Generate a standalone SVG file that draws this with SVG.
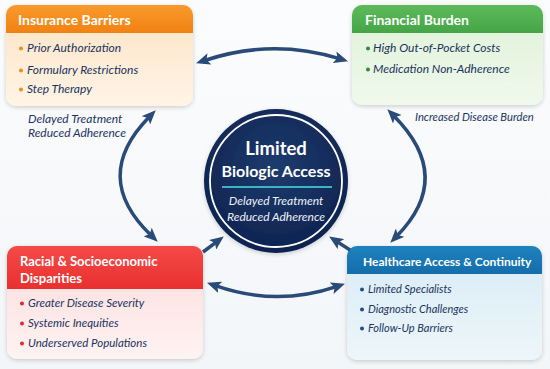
<svg xmlns="http://www.w3.org/2000/svg" width="550" height="369" viewBox="0 0 550 369">
<defs>
<linearGradient id="bg" x1="0" y1="0" x2="0" y2="1"><stop offset="0" stop-color="#FBFCFD"/><stop offset="1" stop-color="#F3F6F9"/></linearGradient>
<linearGradient id="hOr" x1="0" y1="0" x2="0" y2="1"><stop offset="0" stop-color="#F99A2C"/><stop offset="1" stop-color="#F08212"/></linearGradient>
<linearGradient id="bOr" x1="0" y1="0" x2="0" y2="1"><stop offset="0" stop-color="#FDE3C3"/><stop offset="1" stop-color="#FFF4E6"/></linearGradient>
<linearGradient id="hGr" x1="0" y1="0" x2="0" y2="1"><stop offset="0" stop-color="#5CBA5A"/><stop offset="1" stop-color="#45A546"/></linearGradient>
<linearGradient id="bGr" x1="0" y1="0" x2="0" y2="1"><stop offset="0" stop-color="#DDF1D6"/><stop offset="1" stop-color="#F0F9EC"/></linearGradient>
<linearGradient id="hRd" x1="0" y1="0" x2="0" y2="1"><stop offset="0" stop-color="#F44A48"/><stop offset="1" stop-color="#E9302F"/></linearGradient>
<linearGradient id="bRd" x1="0" y1="0" x2="0" y2="1"><stop offset="0" stop-color="#FCDADA"/><stop offset="1" stop-color="#FFF3F3"/></linearGradient>
<linearGradient id="hBl" x1="0" y1="0" x2="0" y2="1"><stop offset="0" stop-color="#1E82C0"/><stop offset="1" stop-color="#156DAB"/></linearGradient>
<linearGradient id="bBl" x1="0" y1="0" x2="0" y2="1"><stop offset="0" stop-color="#D8EBF5"/><stop offset="1" stop-color="#EDF6FA"/></linearGradient>
<radialGradient id="circ" cx="0.5" cy="0.4" r="0.6"><stop offset="0" stop-color="#1E3C6E"/><stop offset="1" stop-color="#0E2350"/></radialGradient>
<filter id="sh" x="-10%" y="-10%" width="120%" height="130%"><feDropShadow dx="0" dy="1.5" stdDeviation="2" flood-color="#000" flood-opacity="0.18"/></filter>
<marker id="ah" viewBox="0 0 14 12" refX="5" refY="6" markerWidth="14" markerHeight="12" markerUnits="userSpaceOnUse" orient="auto-start-reverse"><path d="M0,0 L14,6 L0,12 L3,6 z" fill="#2A4B79"/></marker>
</defs>
<style>
.title{font-family:Lato,"Open Sans","Liberation Sans",sans-serif;font-weight:700;font-size:14px;fill:#fff}
.item{font-family:Lato,"Open Sans","Liberation Sans",sans-serif;font-style:italic;font-size:12px;fill:#1B335E}
.lbl{font-family:Lato,"Open Sans","Liberation Sans",sans-serif;font-style:italic;font-size:12px;fill:#1B335E}
.conn{fill:none;stroke:#2A4B79;stroke-width:3.5}
.ctitle{font-family:Lato,"Open Sans","Liberation Sans",sans-serif;font-weight:700;font-size:17px;fill:#fff}
.csub{font-family:Lato,"Open Sans","Liberation Sans",sans-serif;font-style:italic;font-size:12px;fill:#EEF2F8}
</style>
<rect width="550" height="369" fill="url(#bg)"/>

<g id="insurance">
<rect x="6" y="5" width="187" height="101" rx="10" fill="url(#bOr)" filter="url(#sh)"/>
<path d="M6,33 V15 A10,10 0 0 1 16,5 H183 A10,10 0 0 1 193,15 V33 Z" fill="url(#hOr)"/>
<text class="title" x="18" y="25">Insurance Barriers</text>
<circle cx="21" cy="48.5" r="2" fill="#F08A1E"/><text class="item" x="27" y="52">Prior Authorization</text>
<circle cx="21" cy="70.5" r="2" fill="#F08A1E"/><text class="item" x="27" y="74">Formulary Restrictions</text>
<circle cx="21" cy="89.5" r="2" fill="#F08A1E"/><text class="item" x="27" y="93">Step Therapy</text>
</g>

<g id="financial">
<rect x="352" y="5" width="191" height="100" rx="10" fill="url(#bGr)" filter="url(#sh)"/>
<path d="M352,33 V15 A10,10 0 0 1 362,5 H533 A10,10 0 0 1 543,15 V33 Z" fill="url(#hGr)"/>
<text class="title" x="365" y="25">Financial Burden</text>
<circle cx="368" cy="48.5" r="2" fill="#2E8B3E"/><text class="item" x="373" y="52">High Out-of-Pocket Costs</text>
<circle cx="368" cy="69.5" r="2" fill="#2E8B3E"/><text class="item" x="373" y="73">Medication Non-Adherence</text>
</g>

<g id="racial">
<rect x="7" y="246" width="196" height="113" rx="10" fill="url(#bRd)" filter="url(#sh)"/>
<path d="M7,289 V256 A10,10 0 0 1 17,246 H193 A10,10 0 0 1 203,256 V289 Z" fill="url(#hRd)"/>
<text class="title" x="20" y="266" style="font-size:13px">Racial &amp; Socioeconomic</text>
<text class="title" x="20" y="283" style="font-size:13px">Disparities</text>
<circle cx="22" cy="303.5" r="2" fill="#E2282C"/><text class="item" x="28" y="307" style="font-size:11.5px">Greater Disease Severity</text>
<circle cx="22" cy="323.5" r="2" fill="#E2282C"/><text class="item" x="28" y="327" style="font-size:11.5px">Systemic Inequities</text>
<circle cx="22" cy="343.5" r="2" fill="#E2282C"/><text class="item" x="28" y="347" style="font-size:11.5px">Underserved Populations</text>
</g>

<g id="healthcare">
<rect x="347" y="246" width="195" height="114" rx="10" fill="url(#bBl)" filter="url(#sh)"/>
<path d="M347,274 V256 A10,10 0 0 1 357,246 H532 A10,10 0 0 1 542,256 V274 Z" fill="url(#hBl)"/>
<text class="title" x="363" y="266" style="font-size:12px">Healthcare Access &amp; Continuity</text>
<circle cx="362" cy="289.5" r="2" fill="#1B4F8A"/><text class="item" x="368" y="293" style="font-size:11px">Limited Specialists</text>
<circle cx="362" cy="309.5" r="2" fill="#1B4F8A"/><text class="item" x="368" y="313" style="font-size:11px">Diagnostic Challenges</text>
<circle cx="362" cy="328.5" r="2" fill="#1B4F8A"/><text class="item" x="368" y="332" style="font-size:11px">Follow-Up Barriers</text>
</g>

<g id="center">
<circle cx="276" cy="181" r="72" fill="url(#circ)" filter="url(#sh)"/>
<circle cx="276" cy="181" r="66" fill="none" stroke="#fff" stroke-width="1.8"/>
<text class="ctitle" x="276" y="155" text-anchor="middle" style="font-size:18.5px">Limited</text>
<text class="ctitle" x="276" y="177" text-anchor="middle" style="font-size:16px">Biologic Access</text>
<line x1="222" y1="187" x2="332" y2="187" stroke="#3DB3C6" stroke-width="2"/>
<text class="csub" x="276" y="205" text-anchor="middle">Delayed Treatment</text>
<text class="csub" x="276" y="221" text-anchor="middle">Reduced Adherence</text>
</g>

<g id="connectors">
<path class="conn" d="M204.6,60.5 Q272,38 339.4,58.7" marker-start="url(#ah)" marker-end="url(#ah)"/>
<path class="conn" d="M149.4,116.7 Q90,177 151.2,235.5" marker-start="url(#ah)" marker-end="url(#ah)"/>
<path class="conn" d="M393.7,115.7 Q455,177 396.6,236.3" marker-start="url(#ah)" marker-end="url(#ah)"/>
<path class="conn" d="M215.5,285.7 Q276,307 336.4,286.6" marker-start="url(#ah)" marker-end="url(#ah)"/>
<path class="conn" d="M203,252 L216.6,241.8" marker-end="url(#ah)"/>
<path class="conn" d="M350,250 L336.7,241.4" marker-end="url(#ah)"/>
</g>

<g id="labels">
<text class="lbl" x="28" y="123">Delayed Treatment</text>
<text class="lbl" x="28" y="137">Reduced Adherence</text>
<text class="lbl" x="415" y="121" style="font-size:11.2px">Increased Disease Burden</text>
</g>
</svg>
